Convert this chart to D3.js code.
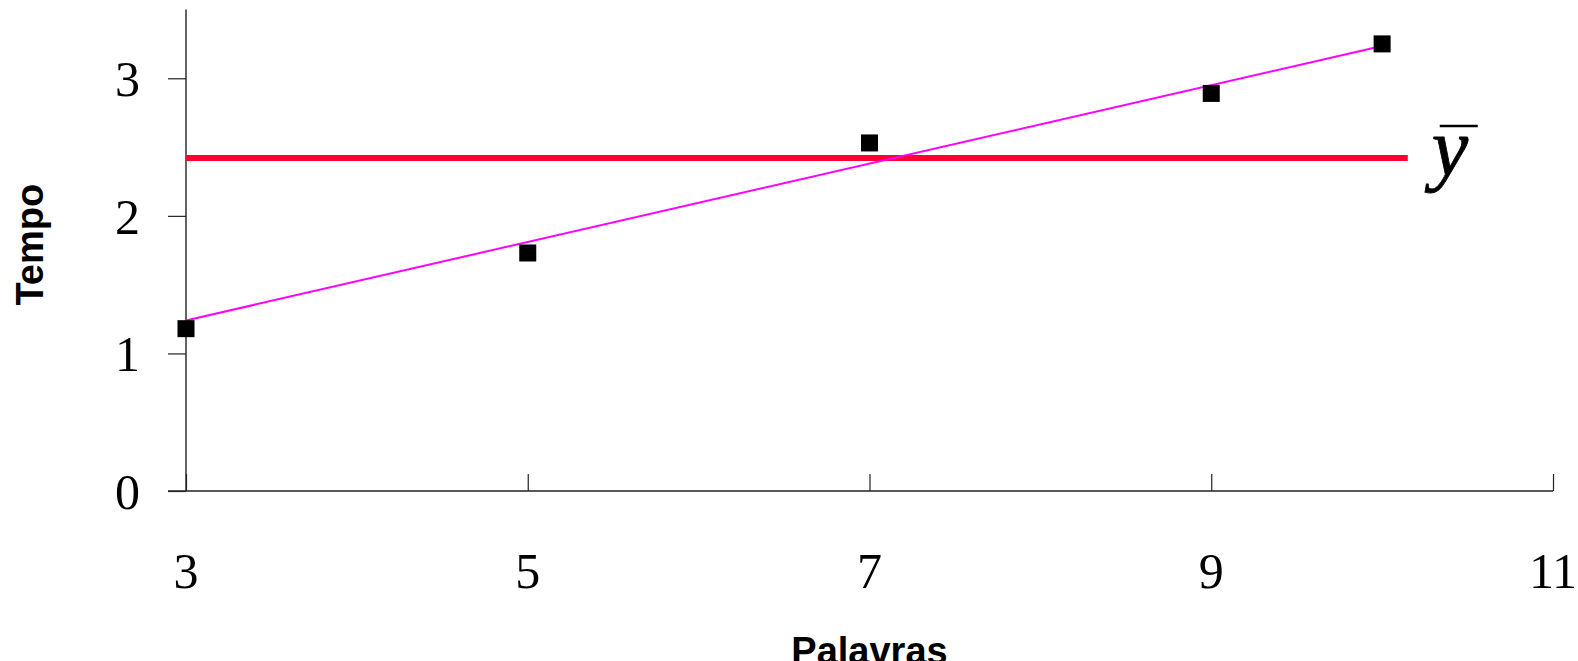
<!DOCTYPE html>
<html>
<head>
<meta charset="utf-8">
<script src="https://cdn.jsdelivr.net/npm/d3@7"></script>
<style>
  html, body { margin: 0; padding: 0; background: #fff; }
  svg { display: block; }
</style>
</head>
<body>
<svg id="chart" width="1578" height="661"></svg>
<script>
// ---- data ----
const palavras = [3, 5, 7, 9, 10];
const tempo = [1.18, 1.73, 2.53, 2.89, 3.25];
const fitX = [3, 10];
const fitY = [1.24, 3.235];
const meanValue = 2.42;
const meanRange = [3, 10.15];
const xTicks = [3, 5, 7, 9, 11];
const yTicks = [0, 1, 2, 3];
const xTitle = "Palavras";
const yTitle = "Tempo";
const meanLabel = "y";

// ---- layout ----
const svg = d3.select("#chart");
const x = d3.scaleLinear().domain([3, 11]).range([186, 1553]);
const y = d3.scaleLinear().domain([0, 3.5]).range([491, 9.5]);
const axisColor = "#222";
const serif = "'Liberation Serif', 'Times New Roman', serif";
const sans = "'Liberation Sans', Arial, sans-serif";

// x axis (ticks inward, labels far below)
const xAxis = svg.append("g").attr("transform", `translate(0,${y(0)})`)
  .call(d3.axisBottom(x).tickValues(xTicks).tickSize(-17).tickSizeOuter(0).tickFormat(""));
xAxis.select(".domain").remove();
xAxis.selectAll(".tick line").attr("stroke", axisColor).attr("stroke-width", 1.2);
svg.append("line")
  .attr("x1", 168).attr("x2", x(11))
  .attr("y1", y(0)).attr("y2", y(0))
  .attr("stroke", axisColor).attr("stroke-width", 1.4);

svg.append("g").selectAll("text").data(xTicks).join("text")
  .attr("x", d => x(d)).attr("y", 588)
  .attr("text-anchor", "middle")
  .attr("font-family", serif).attr("font-size", 50).attr("fill", "#000")
  .text(d => d);

// y axis (ticks outward)
const yAxis = svg.append("g").attr("transform", `translate(${x(3)},0)`)
  .call(d3.axisLeft(y).tickValues(yTicks).tickSize(18).tickSizeOuter(0).tickFormat(""));
yAxis.select(".domain").remove();
yAxis.selectAll(".tick line").attr("stroke", axisColor).attr("stroke-width", 1.2);
svg.append("line")
  .attr("x1", x(3)).attr("x2", x(3))
  .attr("y1", y(3.5)).attr("y2", y(0))
  .attr("stroke", axisColor).attr("stroke-width", 1.4);

svg.append("g").selectAll("text").data(yTicks).join("text")
  .attr("x", 140).attr("y", d => y(d) + 18)
  .attr("text-anchor", "end")
  .attr("font-family", serif).attr("font-size", 50).attr("fill", "#000")
  .text(d => d);

// axis titles
svg.append("text")
  .attr("transform", `translate(43,${y(1.79)}) rotate(-90)`)
  .attr("text-anchor", "middle")
  .attr("font-family", sans).attr("font-weight", "bold").attr("font-size", 38)
  .attr("fill", "#000")
  .text(yTitle);
svg.append("text")
  .attr("x", x(7)).attr("y", 664)
  .attr("text-anchor", "middle")
  .attr("font-family", sans).attr("font-weight", "bold").attr("font-size", 38)
  .attr("fill", "#000")
  .text(xTitle);

// mean line
svg.append("line")
  .attr("x1", x(meanRange[0])).attr("x2", x(meanRange[1]))
  .attr("y1", y(meanValue)).attr("y2", y(meanValue))
  .attr("stroke", "#ff0033").attr("stroke-width", 6);

// regression line
const fitData = fitX.map((d, i) => [d, fitY[i]]);
svg.append("path")
  .datum(fitData)
  .attr("d", d3.line().x(d => x(d[0])).y(d => y(d[1])))
  .attr("fill", "none").attr("stroke", "#ff00ff").attr("stroke-width", 2);

// points
const sz = 17;
svg.append("g").selectAll("rect").data(palavras).join("rect")
  .attr("x", d => x(d) - sz / 2)
  .attr("y", (d, i) => y(tempo[i]) - sz / 2)
  .attr("width", sz).attr("height", sz)
  .attr("fill", "#000");

// y-bar label
const lab = svg.append("g").attr("transform", `translate(${x(meanRange[1]) + 24},${y(meanValue) + 17})`);
lab.append("text")
  .attr("x", 0).attr("y", 0)
  .attr("font-family", serif).attr("font-style", "italic").attr("font-size", 82)
  .attr("fill", "#000").attr("stroke", "#000").attr("stroke-width", 0.8)
  .text(meanLabel);
lab.append("line")
  .attr("x1", 8).attr("x2", 46).attr("y1", -49).attr("y2", -49)
  .attr("stroke", "#000").attr("stroke-width", 2.5);
</script>
</body>
</html>
